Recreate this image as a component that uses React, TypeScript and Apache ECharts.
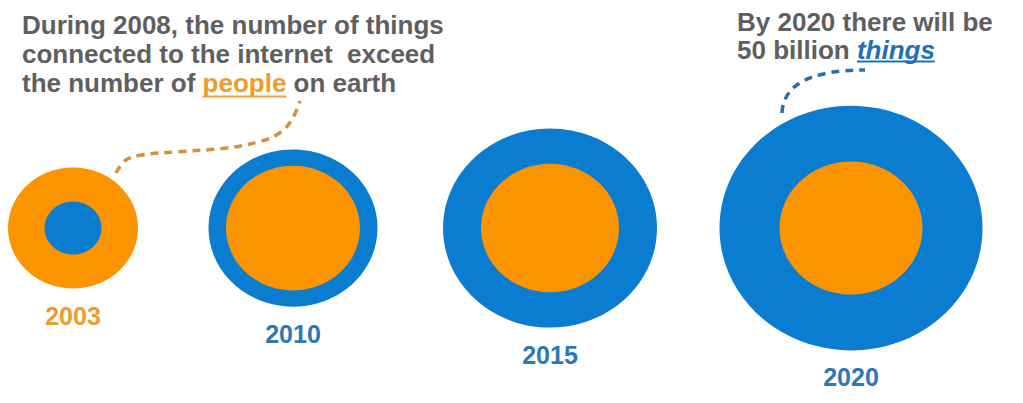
import React, { useEffect, useRef } from 'react';
import * as echarts from 'echarts';

// ---- data ----
const years = ['2003', '2010', '2015', '2020'];
// position of each year's bubble along the horizontal axis (axis units)
const timelinePos = [73, 293, 550, 851];
// bubble sizes (radius, axis units)
const peopleSize = [65, 67, 69, 71.5];
const thingsSize = [28.5, 84.5, 107, 131.5];
const LEVEL = 245; // vertical level of the bubbles (axis units)

const ORANGE = '#FC9400';
const BLUE = '#0B7DD0';
const ORANGE_LABEL = '#EE9B30';
const BLUE_LABEL = '#2C79B7';
const GRAY = '#5F5F5F';
const FF = '"Liberation Sans", Arial, Helvetica, sans-serif';

const leftLines = ['During 2008, the number of things', 'connected to the internet  exceed'];
const leftLast = ['the number of', 'people', 'on earth'];
const rightLines = ['By 2020 there will be'];
const rightLast = ['50 billion', 'things'];

function measure(text: string, font: string): number {
  const c = document.createElement('canvas').getContext('2d');
  if (!c) return text.length * 14;
  c.font = font;
  return c.measureText(text).width;
}

function txt(x: number, y: number, text: string, fill: string, extra: any = {}) {
  return {
    type: 'text',
    x,
    y,
    style: {
      text,
      fill,
      fontSize: 26,
      fontWeight: 'bold',
      fontFamily: FF,
      fontStyle: extra.fontStyle || 'normal',
      textAlign: 'left',
      align: 'left',
      textVerticalAlign: 'middle',
      verticalAlign: 'middle',
    },
  };
}

export default function App() {
  const ref = useRef<HTMLDivElement>(null);
  useEffect(() => {
    if (!ref.current) return;
    const chart = echarts.init(ref.current, undefined, { renderer: 'svg' });

    const fontN = `bold 26px ${FF}`;
    const fontI = `italic bold 26px ${FF}`;
    const wTheNumberOf = measure('the number of ', fontN);
    const wPeople = measure('people', fontN);
    const wPeopleSp = measure('the number of people ', fontN);
    const w50 = measure('50 billion ', fontN);
    const wThings = measure('things', fontI);

    const LX = 22;
    const RX = 737;
    const leftY = [24.5, 53.5, 82.5];
    const rightY = [22, 49.5];

    const data = years.map((_, i) => [timelinePos[i], LEVEL, peopleSize[i], thingsSize[i]]);

    const option: any = {
      animation: false,
      backgroundColor: '#ffffff',
      grid: { left: 0, right: 0, top: 0, bottom: 0, containLabel: false },
      xAxis: { type: 'value', min: 0, max: 1023, show: false },
      yAxis: { type: 'value', min: 0, max: 433, inverse: true, show: false },
      series: [
        {
          type: 'custom',
          clip: false,
          data,
          renderItem: (params: any, api: any) => {
            const c = api.coord([api.value(0), api.value(1)]);
            const pv = api.value(2);
            const tv = api.value(3);
            const p = api.size([pv, pv]);
            const t = api.size([tv, tv]);
            const peopleOuter = pv > tv;
            const outer = peopleOuter ? { s: p, col: ORANGE } : { s: t, col: BLUE };
            const inner = peopleOuter ? { s: t, col: BLUE } : { s: p, col: ORANGE };
            return {
              type: 'group',
              children: [
                {
                  type: 'ellipse',
                  shape: { cx: c[0], cy: c[1], rx: outer.s[0], ry: outer.s[1] },
                  style: { fill: outer.col },
                },
                {
                  type: 'ellipse',
                  shape: { cx: c[0], cy: c[1], rx: inner.s[0], ry: inner.s[1] },
                  style: { fill: inner.col },
                },
                {
                  type: 'text',
                  x: c[0],
                  y: c[1] + outer.s[1] + 27,
                  style: {
                    text: years[params.dataIndex],
                    fill: peopleOuter ? ORANGE_LABEL : BLUE_LABEL,
                    fontSize: 25,
                    fontWeight: 'bold',
                    fontFamily: FF,
                    textAlign: 'center',
                    align: 'center',
                    textVerticalAlign: 'middle',
                    verticalAlign: 'middle',
                  },
                },
              ],
            };
          },
        },
      ],
      graphic: [
        txt(LX, leftY[0], leftLines[0], GRAY),
        txt(LX, leftY[1], leftLines[1], GRAY),
        txt(LX, leftY[2], leftLast[0], GRAY),
        txt(LX + wTheNumberOf, leftY[2], leftLast[1], '#EE9C2B'),
        txt(LX + wPeopleSp, leftY[2], leftLast[2], GRAY),
        {
          type: 'rect',
          shape: { x: LX + wTheNumberOf, y: 95.5, width: wPeople, height: 2 },
          style: { fill: '#E9A140' },
        },
        txt(RX, rightY[0], rightLines[0], GRAY),
        txt(RX, rightY[1], rightLast[0], GRAY),
        txt(RX + w50, rightY[1], rightLast[1], '#2470B3', { fontStyle: 'italic' }),
        {
          type: 'rect',
          shape: { x: RX + w50, y: 60.5, width: wThings, height: 2 },
          style: { fill: '#2470B3' },
        },
        {
          type: 'polyline',
          shape: {
            points: [
              [116, 173], [126, 160], [142, 155], [175, 152], [227, 148],
              [258, 142], [278, 134], [291, 121], [300, 101],
            ],
            smooth: 0.4,
          },
          style: { stroke: '#D4913C', lineWidth: 3.5, lineDash: [8, 6], fill: 'none' },
        },
        {
          type: 'bezierCurve',
          shape: { x1: 782, y1: 113, x2: 865, y2: 70, cpx1: 784, cpy1: 70 },
          style: { stroke: '#2B6FA3', lineWidth: 3.5, lineDash: [8, 6], fill: 'none' },
        },
      ],
    };
    chart.setOption(option);
    return () => chart.dispose();
  }, []);
  return (
    <div
      ref={ref}
      style={{ position: 'absolute', left: 0, top: 0, width: 1023, height: 403 }}
    />
  );
}
